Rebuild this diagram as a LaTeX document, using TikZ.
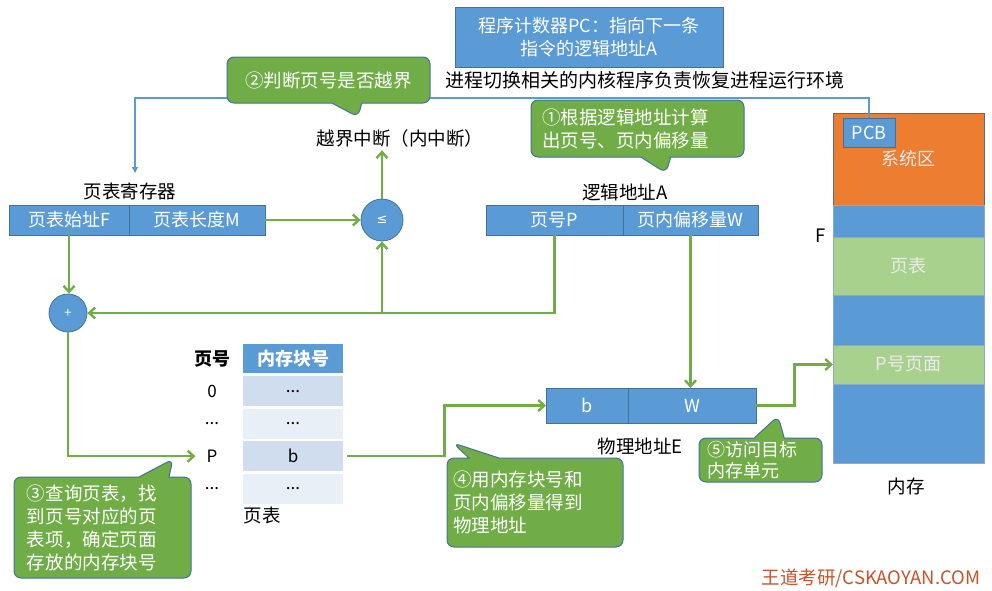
\documentclass[tikz,border=0pt]{standalone}
\usepackage{fontspec}
\setmainfont{Noto Sans CJK SC}
\newfontfamily\symfont{DejaVu Sans}
\usepackage{tikz}
\usetikzlibrary{positioning,calc,arrows.meta,shapes.callouts}
\definecolor{boxblue}{RGB}{91,155,213}
\definecolor{edgeblue}{RGB}{65,113,156}
\definecolor{notegreen}{RGB}{112,173,71}
\definecolor{lightgreen}{RGB}{169,209,142}
\definecolor{sysorange}{RGB}{237,125,49}
\definecolor{rowdark}{RGB}{208,221,238}
\definecolor{rowlight}{RGB}{233,239,247}
\definecolor{markred}{RGB}{199,83,40}
\tikzstyle{field} = [rectangle,
                    minimum height=30pt,
                    inner sep=0pt,
                    outer sep=0pt,
                    text centered,
                    fill=boxblue,
                    draw=edgeblue,
                    line width=0.8pt,
                    text=white,
                    font=\fontsize{18}{23}\selectfont]
\tikzstyle{gate} = [circle,
                    inner sep=0pt,
                    fill=boxblue,
                    draw=edgeblue,
                    line width=0.8pt,
                    text=white,
                    font=\fontsize{13}{15}\selectfont]
\tikzstyle{cell} = [rectangle,
                    minimum width=100pt,
                    minimum height=30pt,
                    inner sep=0pt,
                    text centered,
                    font=\fontsize{17}{20}\selectfont]
\tikzstyle{mem} = [rectangle,
                    minimum width=151pt,
                    inner sep=0pt,
                    outer sep=0pt,
                    draw=edgeblue!60,
                    line width=0.8pt,
                    text=white!92!black,
                    font=\fontsize{18}{23}\selectfont]
\tikzstyle{note} = [rectangle callout,
                    rounded corners=7pt,
                    callout pointer width=30pt,
                    fill=notegreen,
                    draw=edgeblue,
                    line width=1pt,
                    text=white,
                    align=left,
                    inner ysep=2pt,
                    font=\fontsize{18.5}{23}\selectfont]
\tikzstyle{plain} = [font=\fontsize{18.5}{23}\selectfont]
\tikzstyle{flow} = [draw=notegreen,
                    line width=2.4pt,
                    -{Straight Barb[length=6pt,width=11pt]}]
\tikzstyle{link} = [draw=boxblue,
                    line width=1.2pt,
                    -{Triangle[length=6pt,width=6pt]}]
\begin{document}
\begin{tikzpicture}[x=1pt,y=-1pt,node distance=0pt]
\useasboundingbox (0,0) rectangle (992,590);
% registers and addresses
\node (pc) [field, minimum width=268pt, minimum height=60pt, align=center] at (589,37) {程序计数器PC：指向下一条\\指令的逻辑地址A};
\node (env) [plain, font=\fontsize{19}{23}\selectfont] at (645,80) {进程切换相关的内核程序负责恢复进程运行环境};
\node (ovf) [plain] at (400,138) {越界中断（内中断）};
\node (regLbl) [plain] at (130,191) {页表寄存器};
\node (ptF) [field, minimum width=120pt] at (69,220) {页表始址F};
\node (ptM) [field, minimum width=136pt, right=of ptF] {页表长度M};
\node (leq) [gate, minimum size=42pt, font=\symfont\fontsize{13}{15}\selectfont] at (382,220) {≤};
\node (addLbl) [plain] at (625,192) {逻辑地址A};
\node (lpP) [field, minimum width=137pt] at (554.5,220) {页号P};
\node (lpW) [field, minimum width=135pt, right=of lpP] {页内偏移量W};
\node (plus) [gate, minimum size=38pt] at (68,313) {+};
% page table
\node (hNo) [plain, font=\fontsize{18}{23}\selectfont\bfseries] at (212,359) {页号};
\node (hBlk) [cell, minimum height=29pt, fill=boxblue, text=white, font=\fontsize{18}{23}\selectfont\bfseries] at (293,358.5) {内存块号};
\node (r0) [cell, fill=rowdark, below=3pt of hBlk] {...};
\node (r1) [cell, fill=rowlight, below=2pt of r0] {...};
\node (r2) [cell, fill=rowdark, below=2pt of r1] {b};
\node (r3) [cell, fill=rowlight, below=2pt of r2] {...};
\node (p0) [cell, minimum width=0pt] at (212,0 |- r0) {0};
\node (p1) [cell, minimum width=0pt] at (212,0 |- r1) {...};
\node (pP) [cell, minimum width=0pt, inner xsep=3pt] at (212,0 |- r2) {P};
\node (p3) [cell, minimum width=0pt] at (212,0 |- r3) {...};
\node (tblLbl) [plain, anchor=west] at (240,515) {页表};
% physical address
\node (paB) [field, minimum width=82pt, minimum height=35pt] at (587,405.5) {b};
\node (paW) [field, minimum width=128pt, minimum height=35pt, right=of paB] {W};
\node (phyLbl) [plain] at (640,446) {物理地址E};
% memory
\node (sys) [mem, fill=sysorange, draw=edgeblue, minimum height=92pt] at (908.5,159) {系统区};
\node (m1) [mem, fill=boxblue, minimum height=32pt, below=of sys] {};
\node (ptab) [mem, fill=lightgreen, minimum height=58pt, below=of m1] {页表};
\node (m2) [mem, fill=boxblue, minimum height=50pt, below=of ptab] {};
\node (ppage) [mem, fill=lightgreen, minimum height=39pt, below=of m2] {P号页面};
\node (m3) [mem, fill=boxblue, minimum height=79pt, below=of ppage] {};
\node (pcb) [field, minimum width=52pt, minimum height=29pt] at (869,132.5) {PCB};
\node (fLbl) [plain] at (821,236) {F};
\node (memLbl) [plain] at (906,486) {内存};
\node (mark) [text=markred, font=\fontsize{18.5}{22}\selectfont] at (871,578) {王道考研/CSKAOYAN.COM};
% connectors
\coordinate (regIn) at (135,173);
\draw [link] (pcb.north) -- ++(0,-20) -| (regIn);
\draw [flow] (ptM.east) -- (leq.west);
\draw [flow] (leq.north) -- (leq.north |- ovf.south);
\draw [flow] (ptF.south) -- (ptF.south |- plus.north);
\draw [flow] (lpP.south) |- (plus.east);
\draw [flow] (leq.south |- plus.east) -- (leq.south);
\draw [flow, shorten >=8pt] (plus.south) |- (pP.west);
\draw [flow, shorten <=4pt] (r2.east) -| ($(r2.east)!0.5!(paB.west)$) |- (paB.west);
\draw [flow] (lpW.south) -- (lpW.south |- paW.north);
\draw [flow] (paW.east) -| ($(paW.east)!0.5!(ppage.west)$) |- (ppage.west);
% callouts
\coordinate (tip1) at (666,173);
\coordinate (tip2) at (358,117);
\coordinate (tip3) at (173,459);
\coordinate (tip4) at (453,443);
\coordinate (tip5) at (778,416);
\node (note2) [note, callout absolute pointer={(tip2)}, minimum width=203pt, minimum height=46pt] at (328.5,80) {②判断页号是否越界};
\node (note1) [note, callout absolute pointer={(tip1)}, minimum width=213pt, minimum height=57pt, text width=191pt, inner xsep=11pt] at (637.5,128.5) {①根据逻辑地址计算\\出页号、页内偏移量};
\node (note3) [note, callout absolute pointer={(tip3)}, minimum width=177pt, minimum height=101pt, text width=151pt, inner xsep=13pt] at (102.5,527.5) {③查询页表，找\\到页号对应的页\\表项，确定页面\\存放的内存块号};
\node (note4) [note, callout absolute pointer={(tip4)}, minimum width=176pt, minimum height=89pt, text width=164pt, inner xsep=6pt] at (535,502.5) {④用内存块号和\\页内偏移量得到\\物理地址};
\node (note5) [note, callout absolute pointer={(tip5)}, minimum width=123pt, minimum height=44pt, text width=107pt, inner xsep=8pt, inner ysep=0pt, font=\fontsize{18}{21}\selectfont] at (760.5,460) {⑤访问目标\\内存单元};
\end{tikzpicture}
\end{document}
